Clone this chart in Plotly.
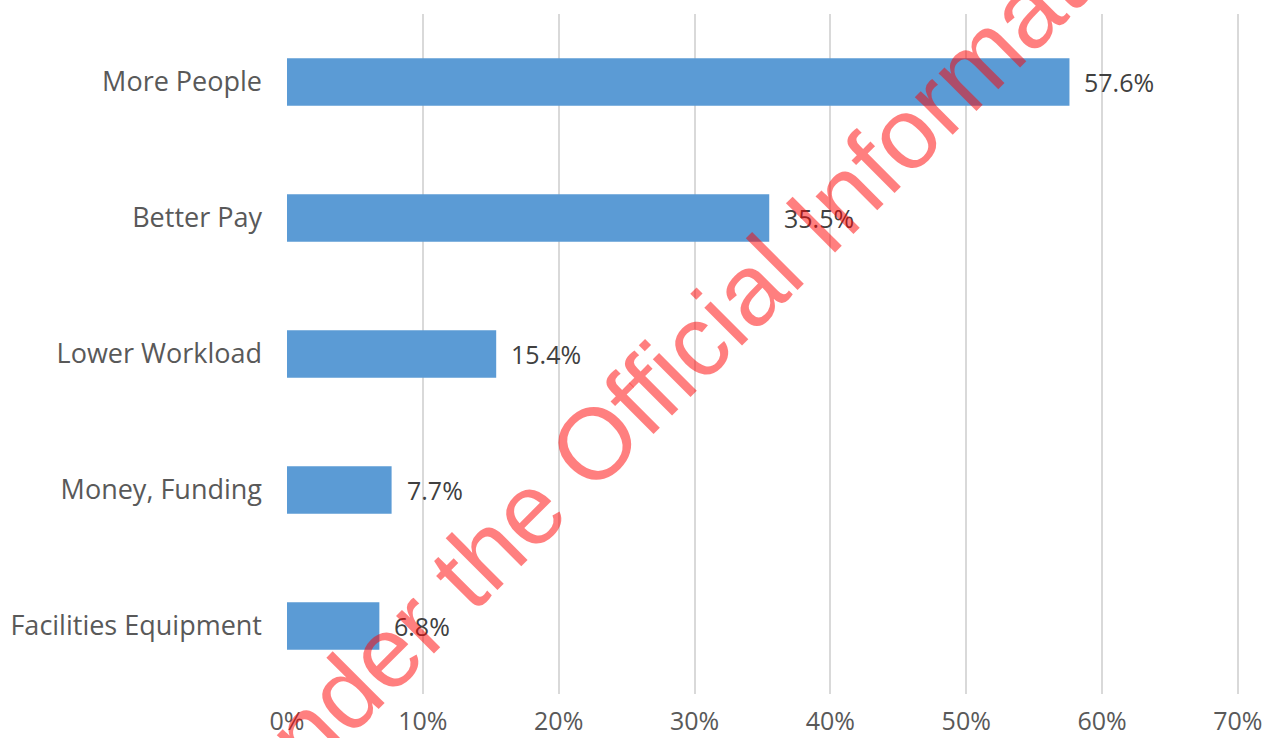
import plotly.graph_objects as go

# Survey responses: what would make the biggest difference
categories = ["More People", "Better Pay", "Lower Workload", "Money, Funding", "Facilities Equipment"]
shares = [57.6, 35.5, 15.4, 7.7, 6.8]
x_ticks = [0, 10, 20, 30, 40, 50, 60, 70]
x_tick_labels = [f"{t}%" for t in x_ticks]
watermark = "Released under the Official Information Act 1982"

LABEL_FONT = "Open Sans"
W, H = 1266, 738
M_L, M_R, M_T, M_B = 287, 27, 14, 44


def to_paper(px, py):
    """Convert page pixels (from top-left) to plot-area paper fractions."""
    pw = W - M_L - M_R
    ph = H - M_T - M_B
    return (px - M_L) / pw, (H - M_B - py) / ph


fig = go.Figure()
fig.add_trace(go.Bar(
    x=shares,
    y=categories,
    orientation="h",
    marker=dict(color="#5B9BD5", line=dict(width=0)),
    width=0.35,
    hoverinfo="skip",
))

annotations = []
# Value labels to the right of each bar
for cat, val in zip(categories, shares):
    annotations.append(dict(
        x=val, y=cat, xref="x", yref="y",
        text=f"{val:.1f}%", showarrow=False,
        xanchor="left", yanchor="middle", xshift=13,
        font=dict(family=LABEL_FONT, size=25, color="#404040"),
    ))

# Diagonal release stamp across the page
wx, wy = to_paper(691, 347)
annotations.append(dict(
    x=wx, y=wy, xref="paper", yref="paper",
    text=watermark, showarrow=False, textangle=-45,
    xanchor="center", yanchor="middle",
    font=dict(family="Liberation Sans", size=101, color="rgba(255,0,0,0.5)"),
))

fig.update_layout(
    width=W, height=H,
    margin=dict(l=M_L, r=M_R, t=M_T, b=M_B, autoexpand=False),
    plot_bgcolor="white", paper_bgcolor="white",
    showlegend=False,
    annotations=annotations,
    xaxis=dict(
        range=[0, 70.08],
        tickvals=x_ticks, ticktext=x_tick_labels,
        showgrid=True, gridcolor="#D9D9D9", gridwidth=1.5,
        zeroline=False, showline=False,
        ticks="", ticklabelstandoff=10,
        tickfont=dict(family=LABEL_FONT, size=25, color="#595959"),
        automargin=False,
        fixedrange=True,
    ),
    yaxis=dict(
        categoryorder="array", categoryarray=categories,
        autorange="reversed",
        showgrid=False, zeroline=False, showline=False,
        ticks="", ticklabelstandoff=24,
        tickfont=dict(family=LABEL_FONT, size=27, color="#595959"),
        automargin=False,
        fixedrange=True,
    ),
)

fig.write_html("out.html")
